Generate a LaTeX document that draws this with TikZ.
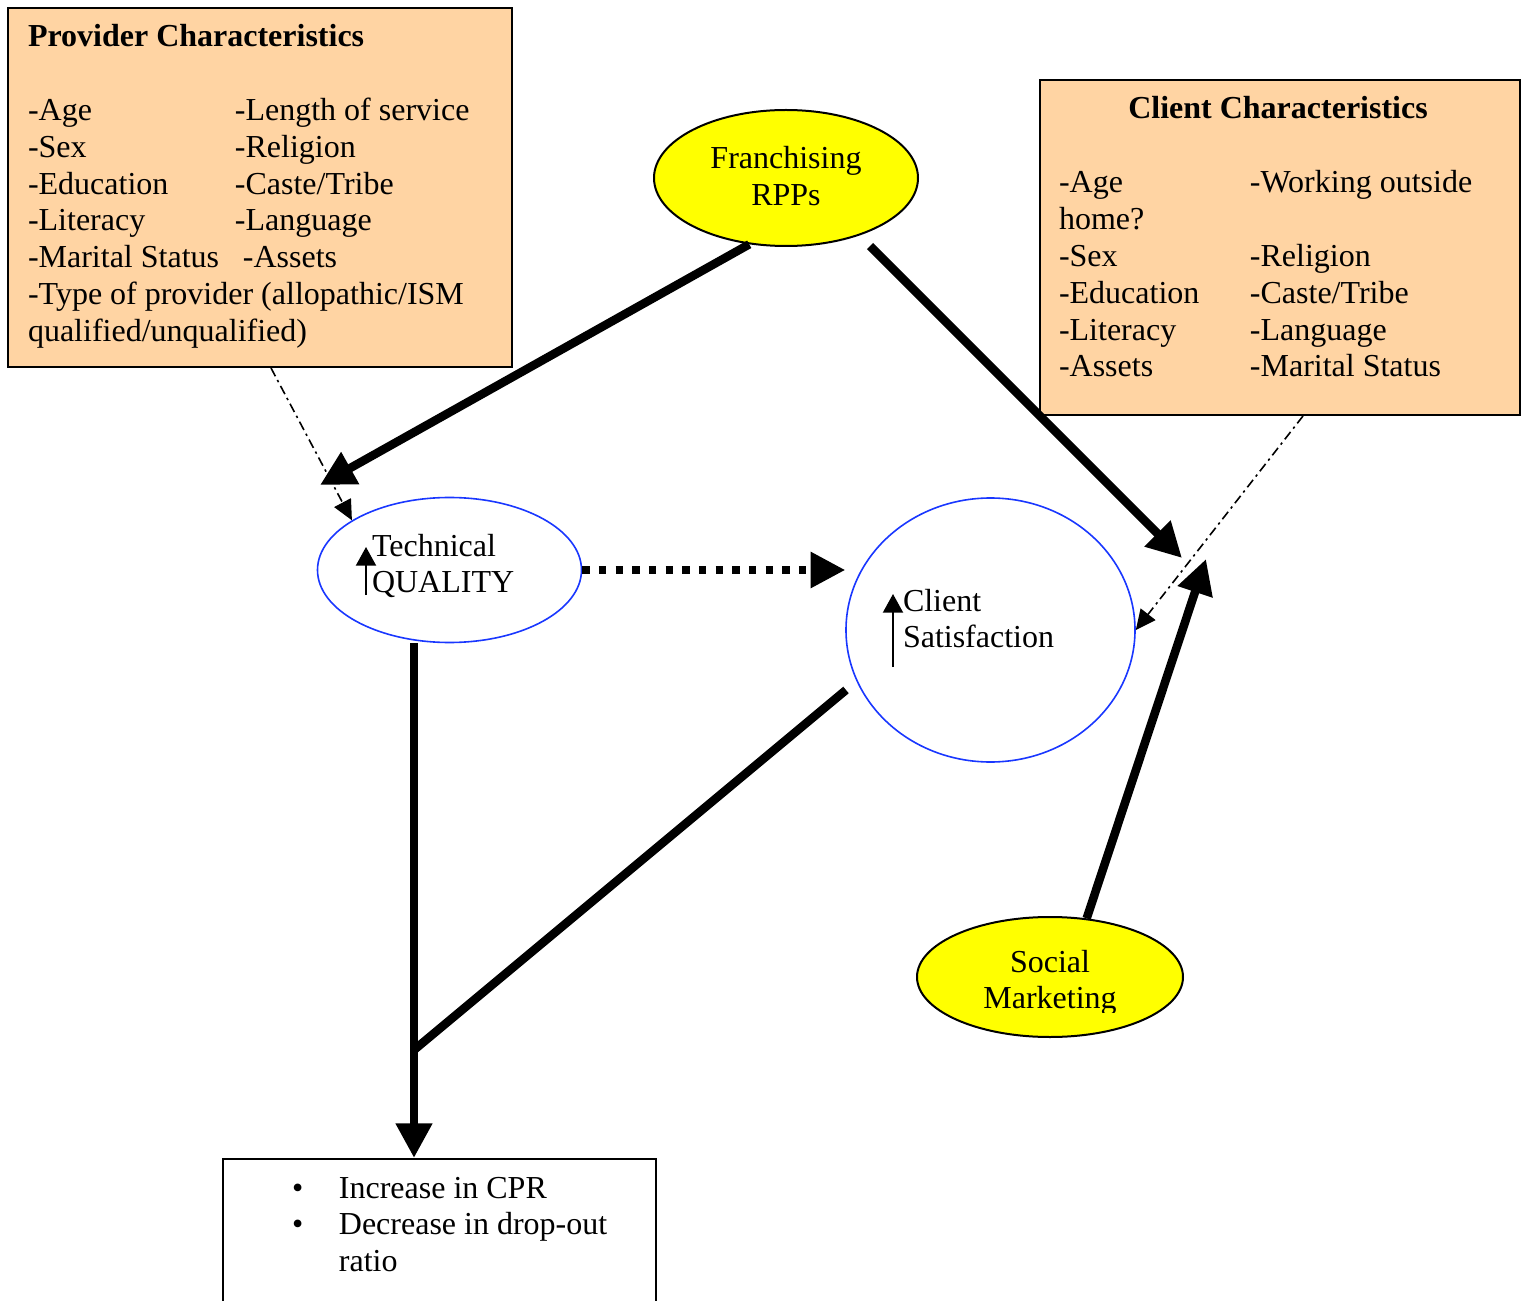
\documentclass[tikz,border=0pt]{standalone}
\usepackage{fontspec}
\setmainfont{Liberation Serif}
\usetikzlibrary{arrows.meta,shapes.geometric,calc}
\definecolor{peach}{RGB}{255,212,163}
\definecolor{ovalblue}{RGB}{25,55,255}
\definecolor{sunyellow}{RGB}{255,255,0}
\begin{document}
\begin{tikzpicture}[x=0.375pt,y=-0.375pt,
  txt/.style={inner sep=0pt, outer sep=0pt, font=\fontsize{12pt}{13.8pt}\selectfont},
  charbox/.style={rectangle, draw=black, line width=0.75pt, fill=peach, inner sep=0pt, anchor=north west},
  outbox/.style={rectangle, draw=black, line width=0.75pt, fill=white, inner sep=0pt, anchor=north west},
  yoval/.style={ellipse, draw=black, line width=0.75pt, fill=sunyellow, inner sep=0pt},
  boval/.style={ellipse, draw=ovalblue, line width=0.6pt, inner sep=0pt},
  bigarrow/.style={line width=3.2pt, -{Triangle[length=13pt,width=13pt]}},
  plainthick/.style={line width=3.2pt},
  dotarrow/.style={line width=2.75pt, line cap=butt, dash pattern=on 2.75pt off 3.5pt,
                   -{Triangle[length=13pt,width=13pt]}},
  dasharrow/.style={line width=0.6pt, dash pattern=on 3.5pt off 1.6pt on 0.9pt off 1.6pt,
                    -{Triangle[length=7.5pt,width=7pt]}},
  uparrow/.style={line width=0.75pt, -{Triangle[length=7pt,width=7.5pt]}}
]
\clip (0,0) rectangle (1525,1301);
\fill[white] (0,0) rectangle (1525,1301);

% characteristic boxes
\node[charbox, minimum width=189pt, minimum height=134.625pt] (prov) at (7,7) {};
\node[charbox, minimum width=180pt, minimum height=125.625pt] (cl) at (1039,79) {};
\node[outbox, minimum width=162.375pt, minimum height=64.5pt] (out) at (222,1158) {};

\node[txt, anchor=base west] (provtxt) at (28,47) {%
  \begin{tabular}[t]{@{}p{77.6pt}@{}l@{}}
  \multicolumn{2}{@{}l@{}}{\bfseries Provider Characteristics}\\
  \\
  -Age & -Length of service\\
  -Sex & -Religion\\
  -Education & -Caste/Tribe\\
  -Literacy & -Language\\
  -Marital Status & \ -Assets\\
  \multicolumn{2}{@{}l@{}}{-Type of provider (allopathic/ISM}\\
  \multicolumn{2}{@{}l@{}}{qualified/unqualified)}
  \end{tabular}};

\node[txt, anchor=base] (cltitle) at (1278,119) {\bfseries Client Characteristics};
\node[txt, anchor=base west] (cltxt) at (1059,193) {%
  \begin{tabular}[t]{@{}p{71.6pt}@{}l@{}}
  -Age & -Working outside\\
  home? & \\
  -Sex & -Religion\\
  -Education & -Caste/Tribe\\
  -Literacy & -Language\\
  -Assets & -Marital Status
  \end{tabular}};

\node[txt, anchor=base west] (outtxt) at (292,1198) {%
  \begin{tabular}[t]{@{}p{17.6pt}@{}l@{}}
  \textbullet & Increase in CPR\\
  \textbullet & Decrease in drop-out\\
  & ratio
  \end{tabular}};

% ovals
\node[yoval, minimum width=99pt, minimum height=51pt] (fr) at (786,178) {};
\node[txt, anchor=base] (frtxt) at (786,169) {%
  \begin{tabular}[t]{@{}c@{}}Franchising\\RPPs\end{tabular}};

\node[yoval, minimum width=99.75pt, minimum height=45pt] (sm) at (1050,977) {};
\begin{scope}
  \clip (900,900) rectangle (1200,1012);
  \node[txt, anchor=base] (smtxt) at (1050,972) {%
    \begin{tabular}[t]{@{}c@{}}Social\\Marketing\end{tabular}};
\end{scope}

\node[boval, minimum width=99pt, minimum height=54.375pt] (tq) at (449.5,570) {};
\node[txt, anchor=base west] (tqtxt) at (372,556) {%
  \begin{tabular}[t]{@{}l@{}}Technical\\QUALITY\end{tabular}};
\coordinate (tqup0) at (366,595);
\coordinate (tqup1) at (366,547);
\draw[uparrow] (tqup0) -- (tqup1);

\node[boval, minimum width=108.375pt, minimum height=99pt] (cs) at (990.5,630) {};
\node[txt, anchor=base west] (cstxt) at (903,611) {%
  \begin{tabular}[t]{@{}l@{}}Client\\Satisfaction\end{tabular}};
\coordinate (csup0) at (893,667);
\coordinate (csup1) at (893,594);
\draw[uparrow] (csup0) -- (csup1);

% connectors
\coordinate (frout) at (870,246);
\coordinate (tqin) at (320,485);
\coordinate (csin1) at (1182,558);
\coordinate (csin2) at (1206,559);
\coordinate (csout) at (846,690);
\coordinate (join) at (414,1050);

\draw[bigarrow] (fr.241) -- (tqin);
\draw[bigarrow] (frout) -- (csin1);
\draw[bigarrow] (sm.58) -- (csin2);
\draw[bigarrow] (join |- tq.south) -- (join |- out.north);
\draw[plainthick] (csout) -- (join);
\draw[dotarrow] (tq.east) -- (tq.east -| cs.west);
\draw[dasharrow] ($(prov.south)+(11,0)$) -- (tq.153);
\draw[dasharrow] ($(cl.south)+(23,0)$) -- (cs.east);
\end{tikzpicture}
\end{document}
